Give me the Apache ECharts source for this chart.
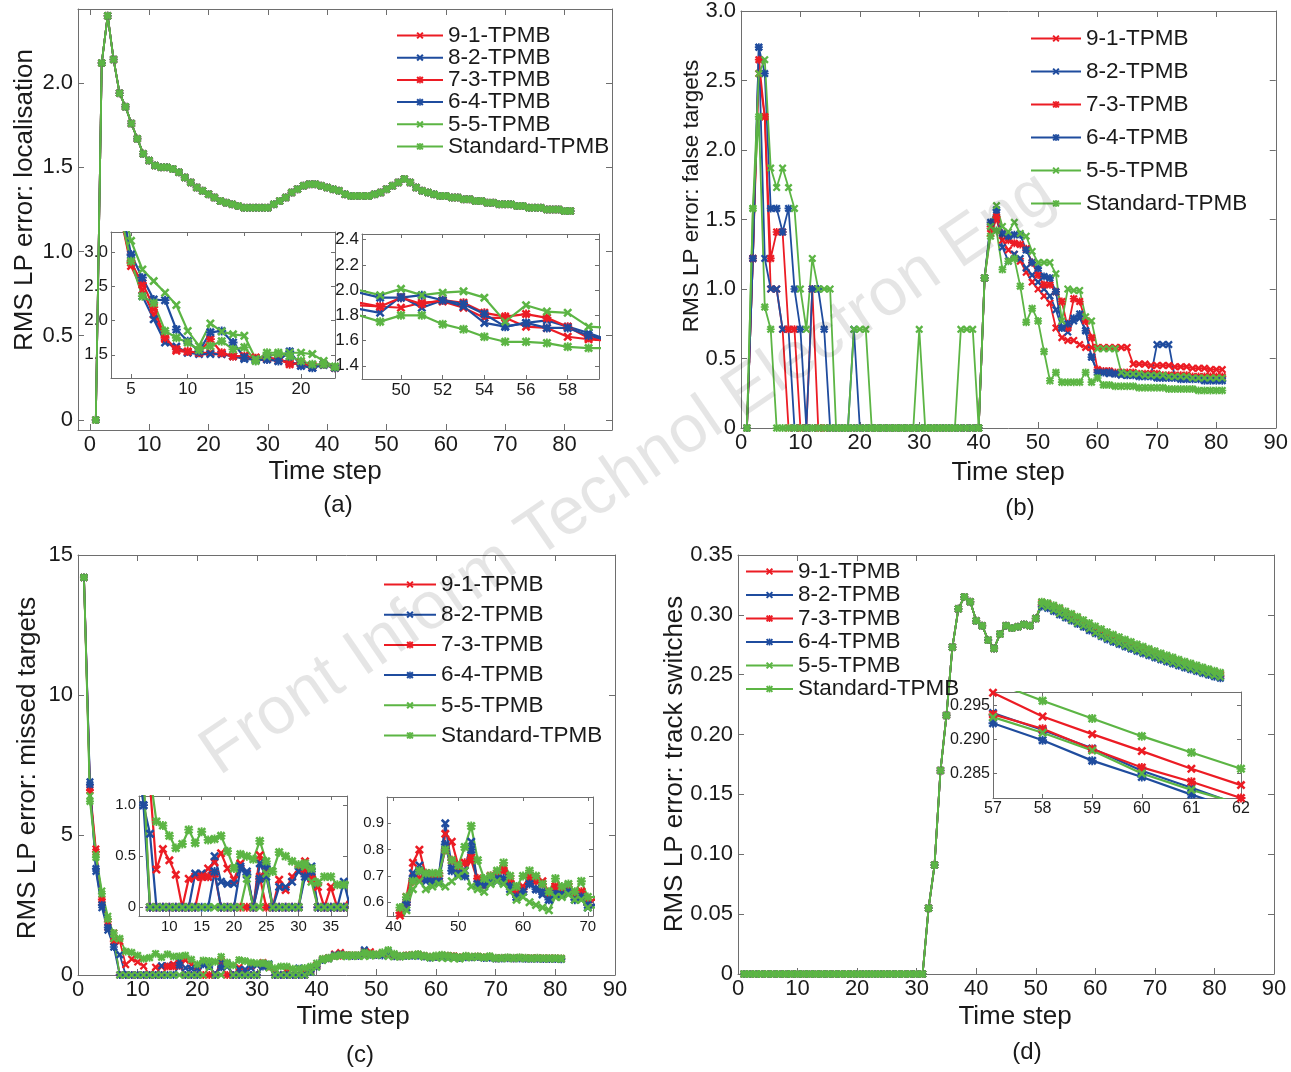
<!DOCTYPE html>
<html>
<head>
<meta charset="utf-8">
<title>RMS LP error</title>
<script src="https://cdn.jsdelivr.net/npm/echarts@6.0.0/dist/echarts.min.js"></script>
<style>
  html, body { margin: 0; padding: 0; background: #fff; }
  #chart { width: 1291px; height: 1072px; }
</style>
</head>
<body>
<div id="chart"></div>
<script>
  // ---- data ----
  const seriesNames = ['9-1-TPMB', '8-2-TPMB', '7-3-TPMB', '6-4-TPMB', '5-5-TPMB', 'Standard-TPMB']

  // tick labels
  const ticksX80 = [0, 10, 20, 30, 40, 50, 60, 70, 80]
  const ticksX90 = [0, 10, 20, 30, 40, 50, 60, 70, 80, 90]
  const ticksLoc = [0, 0.5, 1, 1.5, 2]
  const ticksFalse = [0, 0.5, 1, 1.5, 2, 2.5, 3]
  const ticksMiss = [0, 5, 10, 15]
  const ticksSwitch = [0, 0.05, 0.1, 0.15, 0.2, 0.25, 0.3, 0.35]
  const ticksLocIn1X = [5, 10, 15, 20]
  const ticksLocIn1Y = [1.5, 2, 2.5, 3]
  const ticksLocIn2X = [50, 52, 54, 56, 58]
  const ticksLocIn2Y = [1.4, 1.6, 1.8, 2, 2.2, 2.4]
  const ticksMissIn1X = [10, 15, 20, 25, 30, 35]
  const ticksMissIn1Y = [0, 0.5, 1]
  const ticksMissIn2X = [40, 50, 60, 70]
  const ticksMissIn2Y = [0.6, 0.7, 0.8, 0.9]
  const ticksSwIn1X = [57, 58, 59, 60, 61, 62]
  const ticksSwIn1Y = [0.285, 0.29, 0.295]

  // (a) localisation: the six runs lie on top of each other, steps 1..81
  const locAll = [
    0, 2.12, 2.40, 2.14, 1.94, 1.86, 1.76, 1.67, 1.58, 1.54,
    1.51, 1.50, 1.50, 1.49, 1.47, 1.44, 1.41, 1.38, 1.36, 1.34,
    1.32, 1.30, 1.29, 1.28, 1.27, 1.26, 1.26, 1.26, 1.26, 1.26,
    1.28, 1.30, 1.32, 1.35, 1.37, 1.39, 1.40, 1.40, 1.39, 1.38,
    1.37, 1.36, 1.34, 1.33, 1.33, 1.33, 1.33, 1.34, 1.35, 1.37,
    1.39, 1.41, 1.43, 1.41, 1.38, 1.36, 1.35, 1.34, 1.33, 1.33,
    1.32, 1.32, 1.31, 1.31, 1.30, 1.30, 1.29, 1.29, 1.28, 1.28,
    1.28, 1.27, 1.27, 1.26, 1.26, 1.26, 1.25, 1.25, 1.25, 1.24,
    1.24
  ]
  // (a) left inset, steps 4..23
  const locL91 = [3.6, 2.80, 2.45, 2.09, 1.73, 1.56, 1.54, 1.53, 1.53, 1.51, 1.48, 1.48, 1.46, 1.44, 1.44, 1.38, 1.37, 1.34, 1.36, 1.31]
  const locL82 = [3.7, 2.92, 2.36, 2.02, 1.68, 1.62, 1.53, 1.51, 1.51, 1.51, 1.48, 1.44, 1.43, 1.47, 1.41, 1.40, 1.34, 1.31, 1.35, 1.31]
  const locL73 = [3.6, 2.85, 2.55, 2.20, 1.75, 1.58, 1.55, 1.53, 1.73, 1.53, 1.48, 1.48, 1.45, 1.45, 1.44, 1.36, 1.38, 1.34, 1.36, 1.31]
  const locL64 = [3.8, 2.97, 2.63, 2.31, 2.30, 1.87, 1.70, 1.55, 1.83, 1.85, 1.68, 1.46, 1.42, 1.43, 1.41, 1.55, 1.34, 1.31, 1.36, 1.31]
  const locL55 = [3.9, 3.17, 2.75, 2.58, 2.41, 2.23, 1.85, 1.63, 1.96, 1.84, 1.80, 1.78, 1.44, 1.48, 1.51, 1.53, 1.53, 1.51, 1.41, 1.33]
  const locLStd = [3.6, 2.87, 2.36, 2.26, 1.85, 1.75, 1.68, 1.57, 1.63, 1.70, 1.58, 1.61, 1.41, 1.53, 1.53, 1.48, 1.41, 1.36, 1.36, 1.32]
  // (a) right inset, steps 48..60
  const locR91 = [1.88, 1.87, 1.86, 1.90, 1.91, 1.86, 1.78, 1.78, 1.71, 1.70, 1.63, 1.61, 1.60]
  const locR82 = [1.85, 1.82, 1.95, 1.86, 1.92, 1.87, 1.74, 1.71, 1.74, 1.76, 1.71, 1.66, 1.60]
  const locR73 = [1.90, 1.87, 1.94, 1.89, 1.92, 1.90, 1.82, 1.79, 1.81, 1.78, 1.71, 1.62, 1.60]
  const locR64 = [1.98, 1.94, 1.94, 1.96, 1.92, 1.89, 1.81, 1.71, 1.74, 1.70, 1.70, 1.64, 1.60]
  const locR55 = [2.00, 1.96, 2.01, 1.96, 1.98, 1.99, 1.94, 1.75, 1.88, 1.83, 1.82, 1.71, 1.70]
  const locRStd = [1.80, 1.75, 1.80, 1.80, 1.73, 1.69, 1.63, 1.59, 1.59, 1.58, 1.55, 1.54, 1.54]

  // (b) false targets, steps 1..81
  const fa91 = [
    0, 1.22, 2.55, 2.24, 1.0, 1.0, 0.71, 0, 0, 0,
    0, 0, 0, 0, 0, 0, 0, 0, 0, 0,
    0, 0, 0, 0, 0, 0, 0, 0, 0, 0,
    0, 0, 0, 0, 0, 0, 0, 0, 0, 0,
    1.08, 1.40, 1.50, 1.35, 1.28, 1.25, 1.20, 1.12, 1.05, 1.00,
    0.95, 0.90, 0.72, 0.65, 0.63, 0.63, 0.60, 0.58, 0.58, 0.58,
    0.58, 0.58, 0.58, 0.58, 0.58, 0.46, 0.46, 0.46, 0.45, 0.45,
    0.45, 0.45, 0.44, 0.44, 0.44, 0.43, 0.43, 0.43, 0.42, 0.42,
    0.42
  ]
  const fa82 = [
    0, 1.22, 2.74, 1.22, 1.0, 1.0, 0.71, 0.71, 0, 0,
    0, 0, 0, 0, 0, 0, 0, 0, 0.71, 0,
    0, 0, 0, 0, 0, 0, 0, 0, 0, 0,
    0, 0, 0, 0, 0, 0, 0, 0, 0, 0,
    1.08, 1.45, 1.55, 1.30, 1.20, 1.25, 1.22, 1.15, 1.10, 1.05,
    1.00, 0.95, 0.85, 0.72, 0.69, 0.77, 0.79, 0.70, 0.51, 0.40,
    0.40, 0.39, 0.39, 0.38, 0.38, 0.38, 0.38, 0.38, 0.38, 0.60,
    0.60, 0.60, 0.37, 0.37, 0.37, 0.36, 0.36, 0.36, 0.36, 0.35,
    0.35
  ]
  const fa73 = [
    0, 1.22, 2.65, 2.24, 1.22, 1.41, 1.41, 0.71, 0.71, 0,
    0, 1.0, 0, 0, 0, 0, 0, 0, 0, 0,
    0, 0, 0, 0, 0, 0, 0, 0, 0, 0,
    0, 0, 0, 0, 0, 0, 0, 0, 0, 0,
    1.08, 1.45, 1.52, 1.40, 1.35, 1.33, 1.32, 1.29, 1.19, 1.10,
    1.03, 1.03, 0.98, 0.91, 0.72, 0.93, 0.91, 0.77, 0.65, 0.42,
    0.41, 0.41, 0.40, 0.40, 0.40, 0.40, 0.39, 0.39, 0.39, 0.39,
    0.38, 0.38, 0.38, 0.38, 0.38, 0.37, 0.37, 0.37, 0.37, 0.37,
    0.37
  ]
  const fa64 = [
    0, 1.22, 2.74, 2.55, 1.58, 1.58, 1.41, 1.58, 1.0, 0.71,
    0, 1.0, 1.0, 0.71, 0, 0, 0, 0, 0, 0,
    0, 0, 0, 0, 0, 0, 0, 0, 0, 0,
    0, 0, 0, 0, 0, 0, 0, 0, 0, 0,
    1.08, 1.48, 1.57, 1.40, 1.38, 1.39, 1.39, 1.28, 1.19, 1.15,
    1.09, 1.08, 0.98, 0.72, 0.75, 0.79, 0.82, 0.70, 0.51, 0.40,
    0.40, 0.40, 0.39, 0.39, 0.38, 0.38, 0.37, 0.37, 0.37, 0.36,
    0.36, 0.36, 0.36, 0.35, 0.35, 0.35, 0.35, 0.34, 0.34, 0.34,
    0.34
  ]
  const fa55 = [
    0, 1.58, 2.55, 2.65, 1.87, 1.73, 1.87, 1.73, 1.58, 1.0,
    0.71, 1.22, 1.0, 1.0, 1.0, 0, 0, 0, 0.71, 0.71,
    0.71, 0, 0, 0, 0, 0, 0, 0, 0, 0.71,
    0, 0, 0, 0, 0, 0, 0.71, 0.71, 0.71, 0,
    1.08, 1.45, 1.60, 1.45, 1.41, 1.48, 1.40, 1.38, 1.27, 1.19,
    1.19, 1.19, 1.11, 0.77, 1.00, 0.99, 0.99, 0.80, 0.77, 0.57,
    0.57, 0.57, 0.57, 0.40, 0.39, 0.39, 0.39, 0.38, 0.38, 0.38,
    0.38, 0.37, 0.37, 0.37, 0.37, 0.36, 0.36, 0.36, 0.36, 0.36,
    0.36
  ]
  const faStd = [
    0, 1.58, 2.24, 0.87, 0.71, 0, 0, 0, 0, 0,
    0, 0, 0, 0, 0, 0, 0, 0, 0, 0,
    0, 0, 0, 0, 0, 0, 0, 0, 0, 0,
    0, 0, 0, 0, 0, 0, 0, 0, 0, 0,
    1.08, 1.38, 1.42, 1.14, 1.20, 1.22, 1.02, 0.76, 0.86, 0.77,
    0.55, 0.34, 0.40, 0.33, 0.33, 0.33, 0.33, 0.40, 0.33, 0.36,
    0.31, 0.31, 0.30, 0.30, 0.30, 0.30, 0.29, 0.29, 0.29, 0.29,
    0.29, 0.28, 0.28, 0.28, 0.28, 0.28, 0.27, 0.27, 0.27, 0.27,
    0.27
  ]

  // (c) missed targets, steps 1..81 (the insets zoom into the same runs)
  const mt91 = [
    14.2, 6.7, 4.5, 2.6, 1.7, 1.5, 1.2, 0.37, 0.57, 0.46,
    0.32, 0, 0.28, 0.30, 0.30, 0.38, 0.44, 0.53, 0.38, 0.27,
    0.43, 0.33, 0, 0.51, 0.35, 0, 0.27, 0.17, 0.30, 0.37,
    0.45, 0.28, 0.20, 0, 0.20, 0, 0, 0.10, 0.20, 0.35,
    0.55, 0.62, 0.75, 0.80, 0.70, 0.70, 0.70, 0.86, 0.83, 0.74,
    0.72, 0.76, 0.68, 0.68, 0.70, 0.70, 0.73, 0.69, 0.64, 0.66,
    0.70, 0.69, 0.68, 0.64, 0.66, 0.65, 0.66, 0.63, 0.64, 0.60,
    0.61, 0.62, 0.61, 0.62, 0.61, 0.60, 0.61, 0.60, 0.60, 0.60,
    0.59
  ]
  const mt82 = [
    14.2, 6.9, 3.7, 2.4, 1.6, 1.0, 0.72, 0, 0, 0,
    0, 0, 0, 0.33, 0.33, 0.30, 0.50, 0.25, 0.23, 0.23,
    0.40, 0.35, 0, 0.43, 0.30, 0, 0.20, 0.20, 0.25, 0.35,
    0.38, 0.40, 0, 0, 0, 0, 0.25, 0, 0.10, 0.30,
    0.53, 0.58, 0.71, 0.74, 0.68, 0.68, 0.70, 0.90, 0.73, 0.70,
    0.72, 0.83, 0.67, 0.66, 0.68, 0.68, 0.68, 0.65, 0.62, 0.64,
    0.68, 0.65, 0.63, 0.61, 0.64, 0.63, 0.64, 0.62, 0.62, 0.58,
    0.59, 0.60, 0.59, 0.60, 0.59, 0.58, 0.59, 0.58, 0.58, 0.58,
    0.57
  ]
  const mt73 = [
    14.2, 6.6, 4.4, 2.7, 1.9, 1.2, 0, 0, 0, 0,
    0, 0, 0, 0, 0.30, 0.30, 0.33, 0, 0, 0,
    0, 0, 0, 0.30, 0, 0, 0, 0, 0, 0,
    0.35, 0.30, 0, 0, 0, 0, 0, 0, 0.15, 0.32,
    0.56, 0.60, 0.68, 0.69, 0.71, 0.70, 0.70, 0.80, 0.76, 0.72,
    0.75, 0.77, 0.69, 0.67, 0.70, 0.71, 0.72, 0.68, 0.64, 0.65,
    0.69, 0.68, 0.67, 0.63, 0.66, 0.64, 0.65, 0.63, 0.64, 0.60,
    0.61, 0.61, 0.60, 0.61, 0.60, 0.60, 0.60, 0.59, 0.59, 0.59,
    0.58
  ]
  const mt64 = [
    14.2, 6.8, 3.8, 2.5, 1.7, 1.0, 0, 0, 0, 0,
    0, 0, 0, 0, 0, 0, 0.35, 0, 0, 0,
    0.38, 0.32, 0, 0.28, 0.40, 0, 0, 0, 0, 0,
    0.30, 0.35, 0, 0, 0, 0, 0, 0, 0.12, 0.30,
    0.54, 0.60, 0.69, 0.72, 0.69, 0.68, 0.68, 0.82, 0.72, 0.71,
    0.70, 0.80, 0.67, 0.67, 0.68, 0.69, 0.69, 0.66, 0.62, 0.64,
    0.67, 0.65, 0.64, 0.61, 0.63, 0.63, 0.64, 0.61, 0.62, 0.59,
    0.59, 0.60, 0.59, 0.59, 0.58, 0.58, 0.58, 0.57, 0.57, 0.57,
    0.56
  ]
  const mt55 = [
    14.2, 6.4, 4.3, 3.0, 2.1, 1.3, 0, 0, 0, 0,
    0, 0, 0, 0, 0, 0, 0, 0, 0, 0,
    0, 0.28, 0, 0, 0.33, 0, 0, 0, 0, 0,
    0.40, 0.25, 0, 0, 0, 0, 0, 0, 0.10, 0.28,
    0.52, 0.57, 0.65, 0.68, 0.65, 0.66, 0.67, 0.66, 0.68, 0.70,
    0.72, 0.66, 0.65, 0.64, 0.67, 0.68, 0.67, 0.64, 0.61, 0.62,
    0.60, 0.59, 0.58, 0.57, 0.62, 0.62, 0.63, 0.61, 0.61, 0.58,
    0.58, 0.59, 0.58, 0.59, 0.58, 0.57, 0.58, 0.57, 0.57, 0.57,
    0.56
  ]
  const mtStd = [
    14.2, 6.2, 4.2, 2.9, 2.0, 1.5, 1.3, 0.84, 0.80, 0.70,
    0.58, 0.62, 0.76, 0.63, 0.74, 0.66, 0.67, 0.70, 0.55, 0.38,
    0.52, 0.50, 0.47, 0.65, 0.45, 0.35, 0.54, 0.50, 0.45, 0.42,
    0.43, 0.38, 0.24, 0.30, 0.30, 0.22, 0.22, 0.25, 0.30, 0.42,
    0.58, 0.62, 0.68, 0.72, 0.71, 0.71, 0.71, 0.80, 0.76, 0.74,
    0.81, 0.89, 0.76, 0.69, 0.70, 0.72, 0.75, 0.70, 0.66, 0.70,
    0.72, 0.70, 0.67, 0.64, 0.69, 0.66, 0.67, 0.64, 0.68, 0.62,
    0.62, 0.63, 0.62, 0.63, 0.62, 0.61, 0.62, 0.61, 0.61, 0.61,
    0.60
  ]

  // (d) track switches: shared start (steps 1..50), then each run (steps 51..81)
  const swHead = [
    0, 0, 0, 0, 0, 0, 0, 0, 0, 0,
    0, 0, 0, 0, 0, 0, 0, 0, 0, 0,
    0, 0, 0, 0, 0, 0, 0, 0, 0, 0,
    0, 0.055, 0.091, 0.170, 0.216, 0.273, 0.305, 0.315, 0.311, 0.295,
    0.291, 0.279, 0.272, 0.284, 0.291, 0.289, 0.290, 0.292, 0.291, 0.297
  ]
  const sw91 = [0.3105, 0.309, 0.3068, 0.3045, 0.3018, 0.2994, 0.2969, 0.2934, 0.2908, 0.2883, 0.2857, 0.2833, 0.2812, 0.2792, 0.2772, 0.2753, 0.2734, 0.2716, 0.2698, 0.2680, 0.2662, 0.2645, 0.2628, 0.2611, 0.2595, 0.2579, 0.2563, 0.2548, 0.2533, 0.2518, 0.2503]
  const sw82 = [0.3085, 0.307, 0.3045, 0.3016, 0.299, 0.2965, 0.2939, 0.2914, 0.2887, 0.2854, 0.2829, 0.2803, 0.2782, 0.2762, 0.2742, 0.2723, 0.2704, 0.2686, 0.2668, 0.2650, 0.2633, 0.2616, 0.2599, 0.2583, 0.2567, 0.2551, 0.2536, 0.2521, 0.2506, 0.2492, 0.2478]
  const sw73 = [0.3085, 0.307, 0.3045, 0.3015, 0.2988, 0.2962, 0.2937, 0.2916, 0.2886, 0.2859, 0.2838, 0.2814, 0.2793, 0.2773, 0.2753, 0.2734, 0.2715, 0.2697, 0.2679, 0.2661, 0.2644, 0.2627, 0.2610, 0.2594, 0.2578, 0.2562, 0.2547, 0.2532, 0.2517, 0.2503, 0.2489]
  const sw64 = [0.307, 0.3055, 0.303, 0.300, 0.2975, 0.295, 0.2924, 0.2899, 0.2869, 0.2845, 0.2819, 0.2795, 0.2774, 0.2754, 0.2734, 0.2715, 0.2696, 0.2678, 0.2660, 0.2642, 0.2625, 0.2608, 0.2591, 0.2575, 0.2559, 0.2543, 0.2528, 0.2513, 0.2498, 0.2484, 0.2470]
  const sw55 = [0.308, 0.3065, 0.304, 0.3012, 0.2985, 0.2958, 0.2933, 0.2910, 0.2884, 0.2850, 0.2826, 0.2805, 0.2784, 0.2764, 0.2744, 0.2725, 0.2706, 0.2688, 0.2670, 0.2652, 0.2635, 0.2618, 0.2601, 0.2585, 0.2569, 0.2553, 0.2538, 0.2523, 0.2508, 0.2494, 0.2480]
  const swStd = [0.311, 0.310, 0.308, 0.306, 0.303, 0.301, 0.2985, 0.2957, 0.2931, 0.2905, 0.2881, 0.2857, 0.2835, 0.2815, 0.2795, 0.2775, 0.2755, 0.2736, 0.2717, 0.2698, 0.2680, 0.2662, 0.2645, 0.2628, 0.2611, 0.2595, 0.2579, 0.2563, 0.2548, 0.2533, 0.2518]

  // ---- styles ----
  const FONT = '"Liberation Sans", Arial, Helvetica, sans-serif'
  const RED = '#ec1c24'
  const BLUE = '#1f4c9e'
  const GREEN = '#5cb544'
  const AXIS = '#6e6e6e'
  const TXT = '#1a1a1a'
  // matlab 'x' and '*' markers as filled bars
  const MARK_X = 'path://M0,2L2,0L10,8L8,10Z M8,0L10,2L2,10L0,8Z'
  const MARK_STAR = 'path://M0,2L2,0L10,8L8,10Z M8,0L10,2L2,10L0,8Z M4,0L6,0L6,10L4,10Z M0,4L10,4L10,6L0,6Z'
  const colors = [RED, BLUE, RED, BLUE, GREEN, GREEN]
  const marks = [MARK_X, MARK_X, MARK_STAR, MARK_STAR, MARK_X, MARK_STAR]

  const pairs = (start, arr) => arr.map((v, i) => [start + i, v])

  let grids = [], xAxes = [], yAxes = [], series = []

  function makeAxis(gi, pos, range, ticks, fmt, fs, tickLen, showLabel, margin) {
    return {
      type: 'value', gridIndex: gi, position: pos,
      min: range[0], max: range[1],
      axisLine: { show: true, onZero: false, lineStyle: { color: AXIS, width: 1 } },
      axisTick: { show: true, inside: true, length: tickLen, customValues: ticks, lineStyle: { color: AXIS } },
      axisLabel: {
        show: showLabel, customValues: ticks, formatter: fmt, margin: margin,
        fontSize: fs, fontFamily: FONT, color: TXT
      },
      splitLine: { show: false },
      axisPointer: { show: false }
    }
  }

  function addPlot(p) {
    let gi = grids.length
    grids.push({
      left: p.box[0], top: p.box[1], width: p.box[2], height: p.box[3],
      show: !!p.inset, backgroundColor: '#fff', borderWidth: 0
    })
    let xi = xAxes.length, yi = yAxes.length
    let fs = p.inset ? p.fs : 22
    let tl = p.inset ? 4 : 6
    xAxes.push(makeAxis(gi, 'bottom', p.xRange, p.xTicks, p.xFmt, fs, tl, true, p.inset ? 3 : 4))
    xAxes.push(makeAxis(gi, 'top', p.xRange, p.xTicks, p.xFmt, fs, tl, false, 0))
    yAxes.push(makeAxis(gi, 'left', p.yRange, p.yTicks, p.yFmt, fs, tl, true, p.inset ? 3 : 5))
    yAxes.push(makeAxis(gi, 'right', p.yRange, p.yTicks, p.yFmt, fs, tl, false, 0))
    p.lines.forEach((ln, k) => {
      series.push({
        type: 'line', name: seriesNames[k],
        xAxisIndex: xi, yAxisIndex: yi,
        data: pairs(ln[0], ln[1]),
        symbol: marks[k], symbolSize: p.inset ? 9 : 8,
        lineStyle: { color: colors[k], width: p.inset ? 2.2 : 1.8 },
        itemStyle: { color: colors[k] },
        clip: true, silent: true
      })
    })
  }

  const f0 = (d) => (v) => (v === 0 ? '0' : v.toFixed(d))
  const fInt = (v) => String(v)

  // (a)
  addPlot({ box: [78, 9, 534, 421], xRange: [-2, 88], xTicks: ticksX80, xFmt: fInt,
    yRange: [-0.06, 2.44], yTicks: ticksLoc, yFmt: f0(1),
    lines: [[1, locAll], [1, locAll], [1, locAll], [1, locAll], [1, locAll], [1, locAll]] })
  addPlot({ inset: true, fs: 17, box: [111, 232, 224, 146], xRange: [3.23, 23.0], xTicks: ticksLocIn1X, xFmt: fInt,
    yRange: [1.16, 3.30], yTicks: ticksLocIn1Y, yFmt: f0(1),
    lines: [[4, locL91], [4, locL82], [4, locL73], [4, locL64], [4, locL55], [4, locLStd]] })
  addPlot({ inset: true, fs: 17, box: [362, 234, 237, 145], xRange: [48.13, 59.5], xTicks: ticksLocIn2X, xFmt: fInt,
    yRange: [1.295, 2.445], yTicks: ticksLocIn2Y, yFmt: f0(1),
    lines: [[48, locR91], [48, locR82], [48, locR73], [48, locR64], [48, locR55], [48, locRStd]] })
  // (b)
  addPlot({ box: [741, 7, 537, 421], xRange: [0, 90], xTicks: ticksX90, xFmt: fInt,
    yRange: [0, 3], yTicks: ticksFalse, yFmt: f0(1),
    lines: [[1, fa91], [1, fa82], [1, fa73], [1, fa64], [1, fa55], [1, faStd]] })
  // (c)
  const missLines = [[1, mt91], [1, mt82], [1, mt73], [1, mt64], [1, mt55], [1, mtStd]]
  addPlot({ box: [78, 555, 537, 420], xRange: [0, 90], xTicks: ticksX90, xFmt: fInt,
    yRange: [0, 15], yTicks: ticksMiss, yFmt: fInt, lines: missLines })
  addPlot({ inset: true, fs: 15, box: [139, 796, 208, 120], xRange: [5.3, 37.5], xTicks: ticksMissIn1X, xFmt: fInt,
    yRange: [-0.085, 1.09], yTicks: ticksMissIn1Y, yFmt: f0(1), lines: missLines })
  addPlot({ inset: true, fs: 15, box: [387, 797, 206, 119], xRange: [39, 70.8], xTicks: ticksMissIn2X, xFmt: fInt,
    yRange: [0.548, 1.0], yTicks: ticksMissIn2Y, yFmt: f0(1), lines: missLines })
  // (d)
  const swLines = [sw91, sw82, sw73, sw64, sw55, swStd].map((t) => [1, swHead.concat(t)])
  addPlot({ box: [738, 555, 536, 419], xRange: [0, 90], xTicks: ticksX90, xFmt: fInt,
    yRange: [0, 0.35], yTicks: ticksSwitch, yFmt: f0(2), lines: swLines })
  addPlot({ inset: true, fs: 16, box: [993, 692, 248, 106], xRange: [57, 62], xTicks: ticksSwIn1X, xFmt: fInt,
    yRange: [0.2814, 0.297], yTicks: ticksSwIn1Y, yFmt: f0(3), lines: swLines })

  function legendAt(left, top, itemWidth, gap) {
    return {
      left: left, top: top, orient: 'vertical', padding: 0,
      itemWidth: itemWidth, itemHeight: 9, itemGap: gap,
      selectedMode: false, data: seriesNames,
      textStyle: { fontSize: 22.5, lineHeight: 22, fontFamily: FONT, color: TXT }
    }
  }

  function label(text, x, y, size, rot) {
    return {
      type: 'text', x: x, y: y, rotation: rot || 0, z: 50,
      style: { text: text, fontSize: size, fontFamily: FONT, fill: TXT,
        align: 'center', verticalAlign: 'middle', textAlign: 'center', textVerticalAlign: 'middle' }
    }
  }

  const option = {
    animation: false,
    backgroundColor: '#fff',
    grid: grids,
    xAxis: xAxes,
    yAxis: yAxes,
    legend: [
      legendAt(396, 24, 46, -0.8),
      legendAt(1030, 27, 50, 10),
      legendAt(383, 573, 52, 7.2),
      legendAt(745, 560, 47, 0.5)
    ],
    graphic: [
      {
        type: 'text', x: 628, y: 474, rotation: 0.6, z: 100,
        style: { text: 'Front Inform Technol Electron Eng', fontSize: 67, fontFamily: FONT,
          fill: 'rgba(0,0,0,0.10)', align: 'center', verticalAlign: 'middle', textAlign: 'center', textVerticalAlign: 'middle' }
      },
      label('RMS LP error: localisation', 25, 200, 26, Math.PI / 2),
      label('RMS LP error: false targets', 692, 196, 22.5, Math.PI / 2),
      label('RMS LP error: missed targets', 28, 768, 26, Math.PI / 2),
      label('RMS LP error: track switches', 675, 764, 26, Math.PI / 2),
      label('Time step', 325, 472, 26),
      label('Time step', 1008, 473, 26),
      label('Time step', 353, 1017, 26),
      label('Time step', 1015, 1017, 26),
      label('(a)', 338, 505, 24),
      label('(b)', 1020, 508, 24),
      label('(c)', 360, 1055, 24),
      label('(d)', 1027, 1052, 24)
    ],
    series: series
  }

  const myChart = echarts.init(document.getElementById('chart'))
  myChart.setOption(option)
</script>
</body>
</html>
